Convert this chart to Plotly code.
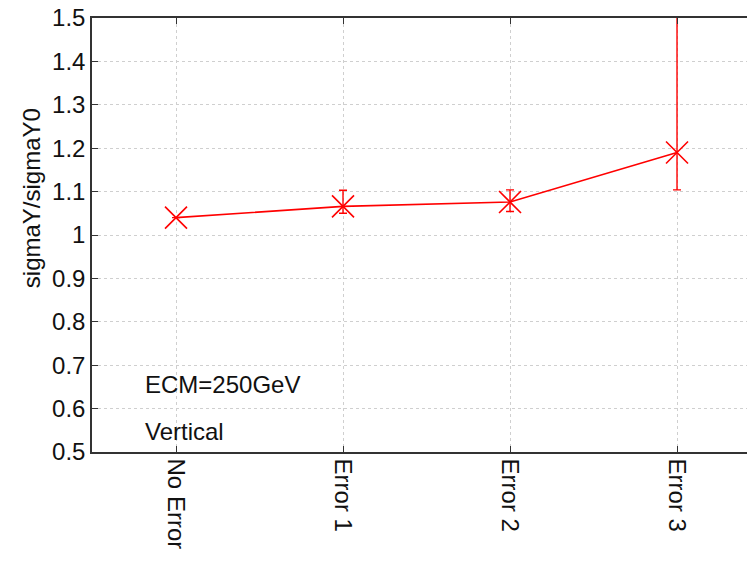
import plotly.graph_objects as go

# Beam size ratio for each misalignment scenario
categories = ["No Error", "Error 1", "Error 2", "Error 3"]
ratio = [1.04, 1.066, 1.076, 1.19]
err_plus = [0.0, 0.037, 0.028, 0.40]
err_minus = [0.0, 0.016, 0.022, 0.086]
y_ticks = [0.5, 0.6, 0.7, 0.8, 0.9, 1.0, 1.1, 1.2, 1.3, 1.4, 1.5]

FONT = "Liberation Sans, Arial, Helvetica, sans-serif"
RED = "#ff0000"
TXT = "#111111"

fig = go.Figure()
fig.add_trace(go.Scatter(
    x=list(range(len(categories))),
    y=ratio,
    mode="lines+markers",
    line=dict(color=RED, width=1.6),
    marker=dict(symbol="x-thin-open", size=22, color=RED,
                line=dict(color=RED, width=1.6)),
    error_y=dict(type="data", symmetric=False, array=err_plus,
                 arrayminus=err_minus, color=RED, thickness=1.4, width=4),
    showlegend=False,
    cliponaxis=True,
))

fig.add_annotation(x=-0.2, y=0.655, xref="x", yref="y", text="ECM=250GeV",
                   showarrow=False, xanchor="left", yanchor="middle",
                   font=dict(family=FONT, size=24, color=TXT))
fig.add_annotation(x=-0.2, y=0.548, xref="x", yref="y", text="Vertical",
                   showarrow=False, xanchor="left", yanchor="middle",
                   font=dict(family=FONT, size=24, color=TXT))
fig.add_annotation(x=-0.093, y=0.585, xref="paper", yref="paper",
                   text="sigmaY/sigmaY0", textangle=-90, showarrow=False,
                   xanchor="center", yanchor="middle",
                   font=dict(family=FONT, size=24, color=TXT))

fig.update_layout(
    width=747, height=561,
    margin=dict(l=92, r=0, t=18, b=109),
    paper_bgcolor="white", plot_bgcolor="white",
    font=dict(family=FONT, size=24, color=TXT),
    xaxis=dict(
        range=[-0.503, 3.419],
        tickmode="array", tickvals=list(range(len(categories))),
        ticktext=categories, tickangle=90,
        ticks="inside", ticklen=6, tickcolor="#333333",
        showline=True, linecolor="#333333", linewidth=1.5, mirror="ticks",
        showgrid=True, gridcolor="#cfcfcf", griddash="dot", gridwidth=1,
        zeroline=False,
    ),
    yaxis=dict(
        range=[0.5, 1.5],
        tickmode="array", tickvals=y_ticks,
        ticktext=[f"{v:g}" for v in y_ticks],
        ticks="inside", ticklen=6, tickcolor="#333333",
        showline=True, linecolor="#333333", linewidth=1.5,
        showgrid=True, gridcolor="#cfcfcf", griddash="dot", gridwidth=1,
        zeroline=False,
    ),
)

fig.write_html("out.html")
